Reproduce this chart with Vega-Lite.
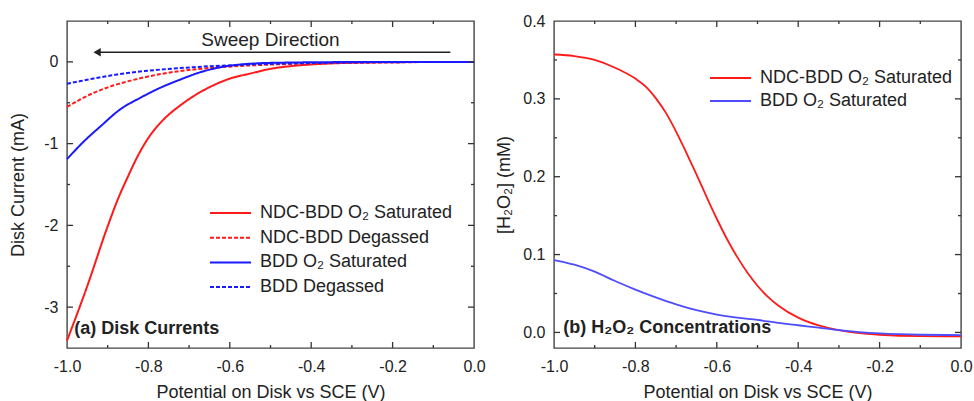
{
  "$schema": "https://vega.github.io/schema/vega-lite/v6.json",
  "padding": {"left": 8, "top": 12, "right": 0, "bottom": 0},
  "bounds": "flush",
  "spacing": 80,
  "config": {
    "font": "Liberation Sans",
    "view": {"stroke": "#444", "strokeWidth": 1.4},
    "axis": {"grid": false, "domain": false, "ticks": false, "labelFontSize": 16, "titleFontSize": 18, "titleFontWeight": "normal", "labelColor": "#222", "titleColor": "#222", "labelFlush": false, "labelOverlap": false},
    "legend": {"labelFontSize": 18, "labelColor": "#222", "labelLimit": 400, "symbolType": "stroke", "symbolSize": 1681, "symbolStrokeWidth": 2, "clipHeight": 22, "labelOffset": 8, "padding": 0},
    "rule": {"color": "#333", "strokeWidth": 1.3}
  },
  "datasets": {
    "xticks": [
      {"p": -0.9, "k": "minor"}, {"p": -0.8, "k": "major"}, {"p": -0.7, "k": "minor"}, {"p": -0.6, "k": "major"},
      {"p": -0.5, "k": "minor"}, {"p": -0.4, "k": "major"}, {"p": -0.3, "k": "minor"}, {"p": -0.2, "k": "major"}, {"p": -0.1, "k": "minor"}
    ],
    "yticksA": [
      {"p": -3, "k": "major"}, {"p": -2.5, "k": "minor"}, {"p": -2, "k": "major"}, {"p": -1.5, "k": "minor"},
      {"p": -1, "k": "major"}, {"p": -0.5, "k": "minor"}, {"p": 0, "k": "major"}
    ],
    "yticksB": [
      {"p": 0, "k": "major"}, {"p": 0.05, "k": "minor"}, {"p": 0.1, "k": "major"}, {"p": 0.15, "k": "minor"},
      {"p": 0.2, "k": "major"}, {"p": 0.25, "k": "minor"}, {"p": 0.3, "k": "major"}, {"p": 0.35, "k": "minor"}
    ],
    "disk": [
      {"s": "NDC-BDD O₂ Saturated", "x": -1.0, "v": -3.41},
      {"s": "NDC-BDD O₂ Saturated", "x": -0.95, "v": -2.74},
      {"s": "NDC-BDD O₂ Saturated", "x": -0.9, "v": -2.01},
      {"s": "NDC-BDD O₂ Saturated", "x": -0.875, "v": -1.68},
      {"s": "NDC-BDD O₂ Saturated", "x": -0.85, "v": -1.4},
      {"s": "NDC-BDD O₂ Saturated", "x": -0.825, "v": -1.14},
      {"s": "NDC-BDD O₂ Saturated", "x": -0.8, "v": -0.93},
      {"s": "NDC-BDD O₂ Saturated", "x": -0.775, "v": -0.77},
      {"s": "NDC-BDD O₂ Saturated", "x": -0.75, "v": -0.645},
      {"s": "NDC-BDD O₂ Saturated", "x": -0.725, "v": -0.545},
      {"s": "NDC-BDD O₂ Saturated", "x": -0.7, "v": -0.455},
      {"s": "NDC-BDD O₂ Saturated", "x": -0.65, "v": -0.31},
      {"s": "NDC-BDD O₂ Saturated", "x": -0.6, "v": -0.205},
      {"s": "NDC-BDD O₂ Saturated", "x": -0.55, "v": -0.143},
      {"s": "NDC-BDD O₂ Saturated", "x": -0.5, "v": -0.085},
      {"s": "NDC-BDD O₂ Saturated", "x": -0.45, "v": -0.052},
      {"s": "NDC-BDD O₂ Saturated", "x": -0.4, "v": -0.032},
      {"s": "NDC-BDD O₂ Saturated", "x": -0.35, "v": -0.019},
      {"s": "NDC-BDD O₂ Saturated", "x": -0.3, "v": -0.011},
      {"s": "NDC-BDD O₂ Saturated", "x": -0.2, "v": -0.004},
      {"s": "NDC-BDD O₂ Saturated", "x": -0.1, "v": -0.001},
      {"s": "NDC-BDD O₂ Saturated", "x": 0.0, "v": 0.0},
      {"s": "NDC-BDD Degassed", "x": -1.0, "v": -0.552},
      {"s": "NDC-BDD Degassed", "x": -0.967, "v": -0.459},
      {"s": "NDC-BDD Degassed", "x": -0.934, "v": -0.378},
      {"s": "NDC-BDD Degassed", "x": -0.893, "v": -0.3},
      {"s": "NDC-BDD Degassed", "x": -0.852, "v": -0.24},
      {"s": "NDC-BDD Degassed", "x": -0.811, "v": -0.19},
      {"s": "NDC-BDD Degassed", "x": -0.77, "v": -0.149},
      {"s": "NDC-BDD Degassed", "x": -0.729, "v": -0.117},
      {"s": "NDC-BDD Degassed", "x": -0.688, "v": -0.093},
      {"s": "NDC-BDD Degassed", "x": -0.647, "v": -0.074},
      {"s": "NDC-BDD Degassed", "x": -0.576, "v": -0.05},
      {"s": "NDC-BDD Degassed", "x": -0.5, "v": -0.033},
      {"s": "NDC-BDD Degassed", "x": -0.4, "v": -0.019},
      {"s": "NDC-BDD Degassed", "x": -0.3, "v": -0.01},
      {"s": "NDC-BDD Degassed", "x": -0.2, "v": -0.005},
      {"s": "NDC-BDD Degassed", "x": -0.1, "v": -0.002},
      {"s": "NDC-BDD Degassed", "x": 0.0, "v": 0.0},
      {"s": "BDD O₂ Saturated", "x": -1.0, "v": -1.19},
      {"s": "BDD O₂ Saturated", "x": -0.96, "v": -0.98},
      {"s": "BDD O₂ Saturated", "x": -0.918, "v": -0.79},
      {"s": "BDD O₂ Saturated", "x": -0.869, "v": -0.58},
      {"s": "BDD O₂ Saturated", "x": -0.82, "v": -0.44},
      {"s": "BDD O₂ Saturated", "x": -0.771, "v": -0.317},
      {"s": "BDD O₂ Saturated", "x": -0.721, "v": -0.215},
      {"s": "BDD O₂ Saturated", "x": -0.672, "v": -0.126},
      {"s": "BDD O₂ Saturated", "x": -0.623, "v": -0.065},
      {"s": "BDD O₂ Saturated", "x": -0.574, "v": -0.032},
      {"s": "BDD O₂ Saturated", "x": -0.525, "v": -0.016},
      {"s": "BDD O₂ Saturated", "x": -0.45, "v": -0.008},
      {"s": "BDD O₂ Saturated", "x": -0.4, "v": -0.005},
      {"s": "BDD O₂ Saturated", "x": -0.3, "v": -0.002},
      {"s": "BDD O₂ Saturated", "x": -0.2, "v": -0.001},
      {"s": "BDD O₂ Saturated", "x": 0.0, "v": 0.0},
      {"s": "BDD Degassed", "x": -1.0, "v": -0.268},
      {"s": "BDD Degassed", "x": -0.967, "v": -0.235},
      {"s": "BDD Degassed", "x": -0.934, "v": -0.203},
      {"s": "BDD Degassed", "x": -0.893, "v": -0.167},
      {"s": "BDD Degassed", "x": -0.852, "v": -0.137},
      {"s": "BDD Degassed", "x": -0.811, "v": -0.113},
      {"s": "BDD Degassed", "x": -0.77, "v": -0.094},
      {"s": "BDD Degassed", "x": -0.729, "v": -0.078},
      {"s": "BDD Degassed", "x": -0.688, "v": -0.065},
      {"s": "BDD Degassed", "x": -0.647, "v": -0.053},
      {"s": "BDD Degassed", "x": -0.576, "v": -0.037},
      {"s": "BDD Degassed", "x": -0.5, "v": -0.025},
      {"s": "BDD Degassed", "x": -0.4, "v": -0.015},
      {"s": "BDD Degassed", "x": -0.3, "v": -0.008},
      {"s": "BDD Degassed", "x": -0.2, "v": -0.004},
      {"s": "BDD Degassed", "x": -0.1, "v": -0.001},
      {"s": "BDD Degassed", "x": 0.0, "v": 0.0}
    ],
    "conc": [
      {"s": "NDC-BDD O₂ Saturated", "x": -1.0, "v": 0.357},
      {"s": "NDC-BDD O₂ Saturated", "x": -0.95, "v": 0.355},
      {"s": "NDC-BDD O₂ Saturated", "x": -0.9, "v": 0.35},
      {"s": "NDC-BDD O₂ Saturated", "x": -0.85, "v": 0.34},
      {"s": "NDC-BDD O₂ Saturated", "x": -0.8, "v": 0.326},
      {"s": "NDC-BDD O₂ Saturated", "x": -0.775, "v": 0.316},
      {"s": "NDC-BDD O₂ Saturated", "x": -0.75, "v": 0.301},
      {"s": "NDC-BDD O₂ Saturated", "x": -0.725, "v": 0.282},
      {"s": "NDC-BDD O₂ Saturated", "x": -0.7, "v": 0.258},
      {"s": "NDC-BDD O₂ Saturated", "x": -0.675, "v": 0.231},
      {"s": "NDC-BDD O₂ Saturated", "x": -0.65, "v": 0.203},
      {"s": "NDC-BDD O₂ Saturated", "x": -0.625, "v": 0.174},
      {"s": "NDC-BDD O₂ Saturated", "x": -0.6, "v": 0.146},
      {"s": "NDC-BDD O₂ Saturated", "x": -0.575, "v": 0.12},
      {"s": "NDC-BDD O₂ Saturated", "x": -0.55, "v": 0.097},
      {"s": "NDC-BDD O₂ Saturated", "x": -0.525, "v": 0.077},
      {"s": "NDC-BDD O₂ Saturated", "x": -0.5, "v": 0.06},
      {"s": "NDC-BDD O₂ Saturated", "x": -0.475, "v": 0.046},
      {"s": "NDC-BDD O₂ Saturated", "x": -0.45, "v": 0.035},
      {"s": "NDC-BDD O₂ Saturated", "x": -0.4, "v": 0.019},
      {"s": "NDC-BDD O₂ Saturated", "x": -0.35, "v": 0.009},
      {"s": "NDC-BDD O₂ Saturated", "x": -0.3, "v": 0.003},
      {"s": "NDC-BDD O₂ Saturated", "x": -0.25, "v": -0.001},
      {"s": "NDC-BDD O₂ Saturated", "x": -0.2, "v": -0.003},
      {"s": "NDC-BDD O₂ Saturated", "x": -0.1, "v": -0.0048},
      {"s": "NDC-BDD O₂ Saturated", "x": 0.0, "v": -0.005},
      {"s": "BDD O₂ Saturated", "x": -1.0, "v": 0.093},
      {"s": "BDD O₂ Saturated", "x": -0.95, "v": 0.087},
      {"s": "BDD O₂ Saturated", "x": -0.9, "v": 0.078},
      {"s": "BDD O₂ Saturated", "x": -0.85, "v": 0.066},
      {"s": "BDD O₂ Saturated", "x": -0.8, "v": 0.055},
      {"s": "BDD O₂ Saturated", "x": -0.75, "v": 0.045},
      {"s": "BDD O₂ Saturated", "x": -0.7, "v": 0.036},
      {"s": "BDD O₂ Saturated", "x": -0.65, "v": 0.0285},
      {"s": "BDD O₂ Saturated", "x": -0.6, "v": 0.023},
      {"s": "BDD O₂ Saturated", "x": -0.55, "v": 0.019},
      {"s": "BDD O₂ Saturated", "x": -0.5, "v": 0.016},
      {"s": "BDD O₂ Saturated", "x": -0.45, "v": 0.0123},
      {"s": "BDD O₂ Saturated", "x": -0.4, "v": 0.0092},
      {"s": "BDD O₂ Saturated", "x": -0.35, "v": 0.0062},
      {"s": "BDD O₂ Saturated", "x": -0.3, "v": 0.003},
      {"s": "BDD O₂ Saturated", "x": -0.25, "v": 0.0005},
      {"s": "BDD O₂ Saturated", "x": -0.2, "v": -0.0013},
      {"s": "BDD O₂ Saturated", "x": -0.1, "v": -0.003},
      {"s": "BDD O₂ Saturated", "x": 0.0, "v": -0.0034}
    ]
  },
  "resolve": {"scale": {"color": "independent", "strokeDash": "independent", "x": "independent", "y": "independent"}, "legend": {"color": "independent", "strokeDash": "independent"}},
  "hconcat": [
    {
      "width": 407,
      "height": 327,
      "resolve": {"axis": {"x": "independent", "y": "independent"}},
      "layer": [
        {
          "data": {"name": "disk"},
          "mark": {"type": "line", "strokeWidth": 2, "interpolate": "monotone"},
          "encoding": {
            "x": {"field": "x", "type": "quantitative", "scale": {"domain": [-1, 0], "nice": false, "zero": false},
              "axis": {"orient": "bottom", "title": "Potential on Disk vs SCE (V)", "values": [-1, -0.8, -0.6, -0.4, -0.2, 0],
                "labelExpr": "replace(format(datum.value, '.1f'), '\u2212', '-')",
                "labelPadding": 10, "titleY": 35, "titleBaseline": "top"}},
            "y": {"field": "v", "type": "quantitative", "scale": {"domain": [-3.5, 0.5], "nice": false, "zero": false},
              "axis": {"orient": "left", "title": "Disk Current (mA)", "values": [-3, -2, -1, 0],
                "labelExpr": "replace(format(datum.value, 'd'), '\u2212', '-')",
                "labelPadding": 9, "titleX": -40}},
            "color": {"field": "s", "type": "nominal",
              "scale": {"domain": ["NDC-BDD O₂ Saturated", "NDC-BDD Degassed", "BDD O₂ Saturated", "BDD Degassed"], "range": ["#ff1a1a", "#ff1a1a", "#1a1aff", "#1a1aff"]},
              "legend": {"title": null, "orient": "none", "legendX": 142, "legendY": 181, "rowPadding": 2.7}},
            "strokeDash": {"field": "s", "type": "nominal",
              "scale": {"domain": ["NDC-BDD O₂ Saturated", "NDC-BDD Degassed", "BDD O₂ Saturated", "BDD Degassed"], "range": [[1, 0], [4, 2], [1, 0], [4, 2]]},
              "legend": {"title": null, "orient": "none", "legendX": 142, "legendY": 181, "rowPadding": 2.7}}
          }
        },
        {"data": {"name": "xticks"}, "transform": [{"filter": "datum.k == 'major'"}], "mark": {"type": "rule"},
          "encoding": {"x": {"field": "p", "type": "quantitative", "axis": null}, "y": {"datum": -3.5, "type": "quantitative", "axis": null}, "y2": {"datum": -3.4266}}},
        {"data": {"name": "xticks"}, "transform": [{"filter": "datum.k == 'minor'"}], "mark": {"type": "rule"},
          "encoding": {"x": {"field": "p", "type": "quantitative", "axis": null}, "y": {"datum": -3.5, "type": "quantitative", "axis": null}, "y2": {"datum": -3.4633}}},
        {"data": {"name": "xticks"}, "transform": [{"filter": "datum.k == 'major'"}], "mark": {"type": "rule"},
          "encoding": {"x": {"field": "p", "type": "quantitative", "axis": null}, "y": {"datum": 0.5, "type": "quantitative", "axis": null}, "y2": {"datum": 0.4266}}},
        {"data": {"name": "xticks"}, "transform": [{"filter": "datum.k == 'minor'"}], "mark": {"type": "rule"},
          "encoding": {"x": {"field": "p", "type": "quantitative", "axis": null}, "y": {"datum": 0.5, "type": "quantitative", "axis": null}, "y2": {"datum": 0.4633}}},
        {"data": {"name": "yticksA"}, "transform": [{"filter": "datum.k == 'major'"}], "mark": {"type": "rule"},
          "encoding": {"y": {"field": "p", "type": "quantitative", "axis": null}, "x": {"datum": -1, "type": "quantitative", "axis": null}, "x2": {"datum": -0.98526}}},
        {"data": {"name": "yticksA"}, "transform": [{"filter": "datum.k == 'minor'"}], "mark": {"type": "rule"},
          "encoding": {"y": {"field": "p", "type": "quantitative", "axis": null}, "x": {"datum": -1, "type": "quantitative", "axis": null}, "x2": {"datum": -0.99263}}},
        {"data": {"name": "yticksA"}, "transform": [{"filter": "datum.k == 'major'"}], "mark": {"type": "rule"},
          "encoding": {"y": {"field": "p", "type": "quantitative", "axis": null}, "x": {"datum": 0, "type": "quantitative", "axis": null}, "x2": {"datum": -0.01474}}},
        {"data": {"name": "yticksA"}, "transform": [{"filter": "datum.k == 'minor'"}], "mark": {"type": "rule"},
          "encoding": {"y": {"field": "p", "type": "quantitative", "axis": null}, "x": {"datum": 0, "type": "quantitative", "axis": null}, "x2": {"datum": -0.00737}}},
        {
          "data": {"values": [{"x": -0.058, "x2": -0.93, "y": 0.118}]},
          "mark": {"type": "rule", "color": "#222", "strokeWidth": 1.5},
          "encoding": {
            "x": {"field": "x", "type": "quantitative", "axis": null},
            "x2": {"field": "x2"},
            "y": {"field": "y", "type": "quantitative", "axis": null}
          }
        },
        {
          "data": {"values": [{"x": -0.926, "y": 0.118}]},
          "mark": {"type": "point", "shape": "triangle-left", "filled": true, "color": "#222", "size": 70, "opacity": 1},
          "encoding": {
            "x": {"field": "x", "type": "quantitative", "axis": null},
            "y": {"field": "y", "type": "quantitative", "axis": null}
          }
        },
        {
          "data": {"values": [{"x": -0.5, "y": 0.265, "t": "Sweep Direction"}]},
          "mark": {"type": "text", "fontSize": 19, "color": "#222", "align": "center", "baseline": "middle"},
          "encoding": {
            "x": {"field": "x", "type": "quantitative", "axis": null},
            "y": {"field": "y", "type": "quantitative", "axis": null},
            "text": {"field": "t"}
          }
        },
        {
          "data": {"values": [{"x": -0.982, "y": -3.27, "t": "(a) Disk Currents"}]},
          "mark": {"type": "text", "fontSize": 18, "fontWeight": "bold", "color": "#222", "align": "left", "baseline": "middle"},
          "encoding": {
            "x": {"field": "x", "type": "quantitative", "axis": null},
            "y": {"field": "y", "type": "quantitative", "axis": null},
            "text": {"field": "t"}
          }
        }
      ]
    },
    {
      "width": 407,
      "height": 327,
      "resolve": {"axis": {"x": "independent", "y": "independent"}},
      "layer": [
        {
          "data": {"name": "conc"},
          "mark": {"type": "line", "strokeWidth": 1.8, "interpolate": "monotone"},
          "encoding": {
            "x": {"field": "x", "type": "quantitative", "scale": {"domain": [-1, 0], "nice": false, "zero": false},
              "axis": {"orient": "bottom", "title": "Potential on Disk vs SCE (V)", "values": [-1, -0.8, -0.6, -0.4, -0.2, 0],
                "labelExpr": "replace(format(datum.value, '.1f'), '\u2212', '-')",
                "labelPadding": 10, "titleY": 35, "titleBaseline": "top"}},
            "y": {"field": "v", "type": "quantitative", "scale": {"domain": [-0.02, 0.4], "nice": false, "zero": false},
              "axis": {"orient": "left", "title": "[H₂O₂] (mM)", "values": [0, 0.1, 0.2, 0.3, 0.4],
                "format": ".1f",
                "labelPadding": 9, "titleX": -41}},
            "color": {"field": "s", "type": "nominal",
              "scale": {"domain": ["NDC-BDD O₂ Saturated", "BDD O₂ Saturated"], "range": ["#ff1a1a", "#4d4dff"]},
              "legend": {"title": null, "orient": "none", "legendX": 155, "legendY": 46, "rowPadding": 1}}
          }
        },
        {"data": {"name": "xticks"}, "transform": [{"filter": "datum.k == 'major'"}], "mark": {"type": "rule"},
          "encoding": {"x": {"field": "p", "type": "quantitative", "axis": null}, "y": {"datum": -0.02, "type": "quantitative", "axis": null}, "y2": {"datum": -0.0123}}},
        {"data": {"name": "xticks"}, "transform": [{"filter": "datum.k == 'minor'"}], "mark": {"type": "rule"},
          "encoding": {"x": {"field": "p", "type": "quantitative", "axis": null}, "y": {"datum": -0.02, "type": "quantitative", "axis": null}, "y2": {"datum": -0.01615}}},
        {"data": {"name": "xticks"}, "transform": [{"filter": "datum.k == 'major'"}], "mark": {"type": "rule"},
          "encoding": {"x": {"field": "p", "type": "quantitative", "axis": null}, "y": {"datum": 0.4, "type": "quantitative", "axis": null}, "y2": {"datum": 0.3923}}},
        {"data": {"name": "xticks"}, "transform": [{"filter": "datum.k == 'minor'"}], "mark": {"type": "rule"},
          "encoding": {"x": {"field": "p", "type": "quantitative", "axis": null}, "y": {"datum": 0.4, "type": "quantitative", "axis": null}, "y2": {"datum": 0.39615}}},
        {"data": {"name": "yticksB"}, "transform": [{"filter": "datum.k == 'major'"}], "mark": {"type": "rule"},
          "encoding": {"y": {"field": "p", "type": "quantitative", "axis": null}, "x": {"datum": -1, "type": "quantitative", "axis": null}, "x2": {"datum": -0.98526}}},
        {"data": {"name": "yticksB"}, "transform": [{"filter": "datum.k == 'minor'"}], "mark": {"type": "rule"},
          "encoding": {"y": {"field": "p", "type": "quantitative", "axis": null}, "x": {"datum": -1, "type": "quantitative", "axis": null}, "x2": {"datum": -0.99263}}},
        {"data": {"name": "yticksB"}, "transform": [{"filter": "datum.k == 'major'"}], "mark": {"type": "rule"},
          "encoding": {"y": {"field": "p", "type": "quantitative", "axis": null}, "x": {"datum": 0, "type": "quantitative", "axis": null}, "x2": {"datum": -0.01474}}},
        {"data": {"name": "yticksB"}, "transform": [{"filter": "datum.k == 'minor'"}], "mark": {"type": "rule"},
          "encoding": {"y": {"field": "p", "type": "quantitative", "axis": null}, "x": {"datum": 0, "type": "quantitative", "axis": null}, "x2": {"datum": -0.00737}}},
        {
          "data": {"values": [{"x": -0.977, "y": 0.006, "t": "(b) H₂O₂ Concentrations"}]},
          "mark": {"type": "text", "fontSize": 18, "fontWeight": "bold", "color": "#222", "align": "left", "baseline": "middle"},
          "encoding": {
            "x": {"field": "x", "type": "quantitative", "axis": null},
            "y": {"field": "y", "type": "quantitative", "axis": null},
            "text": {"field": "t"}
          }
        }
      ]
    }
  ]
}
